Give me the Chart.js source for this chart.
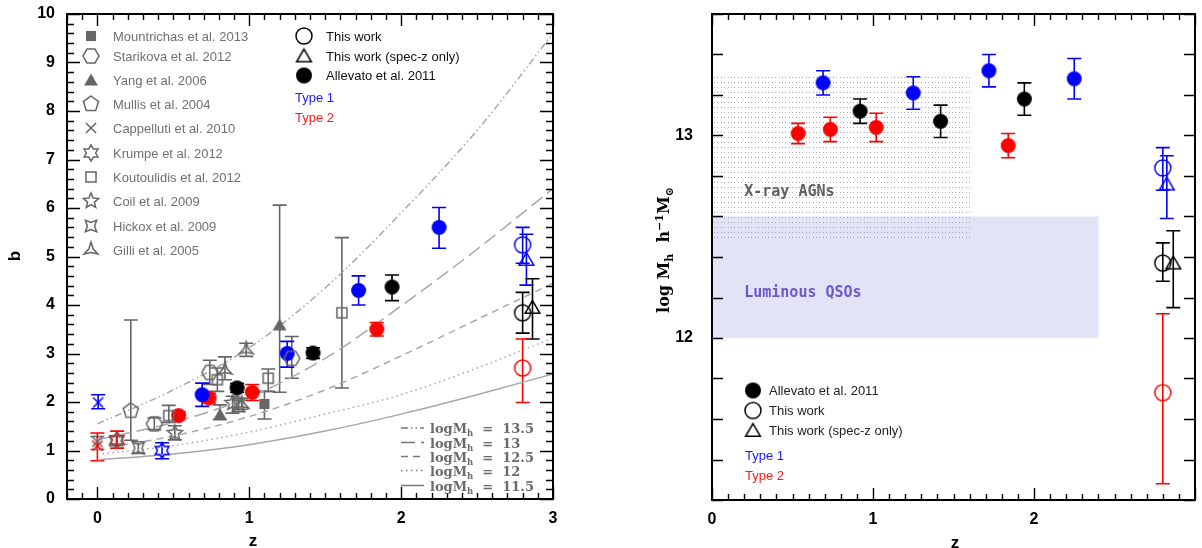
<!DOCTYPE html>
<html>
<head>
<meta charset="utf-8">
<title>AGN bias and halo mass vs redshift</title>
<script src="https://cdn.jsdelivr.net/npm/chart.js@4.4.1/dist/chart.umd.min.js"></script>
<style>
  html, body { margin: 0; padding: 0; background: #fff; width: 1202px; height: 548px; overflow: hidden; }
  #left { position: absolute; left: 0; top: 0; }
  #right { position: absolute; left: 600px; top: 0; }
</style>
</head>
<body>
<canvas id="left" width="580" height="548"></canvas>
<canvas id="right" width="602" height="548"></canvas>
<script>
// ---------- left panel: bias b vs z ----------
const curveZ = [0, 0.5, 1, 1.5, 2, 2.5, 3];
const bM135 = [1.55, 2.25, 3.12, 4.35, 5.9, 7.6, 9.6];
const bM130 = [1.22, 1.58, 2.1, 2.9, 3.98, 5.15, 6.4];
const bM125 = [1.03, 1.3, 1.7, 2.25, 2.95, 3.7, 4.45];
const bM120 = [0.92, 1.1, 1.38, 1.75, 2.15, 2.7, 3.32];
const bM115 = [0.81, 0.93, 1.12, 1.4, 1.75, 2.15, 2.58];

// literature (z, b, lower, upper)
const mountrichasZ = [1.10], mountrichasB = [1.96], mountrichasLo = [1.65], mountrichasHi = [2.22];
const starikovaZ = [0.375, 0.74, 1.28], starikovaB = [1.55, 2.61, 2.90], starikovaLo = [1.43, 2.36, 2.49], starikovaHi = [1.67, 2.86, 3.35];
const yangZ = [0.807, 1.20], yangB = [1.74, 3.59], yangLo = [1.64, 2.20], yangHi = [1.94, 6.06];
const mullisZ = [0.22], mullisB = [1.82], mullisLo = [1.21], mullisHi = [3.69];
const cappZ = [0.0], cappB = [1.18], cappLo = [1.02], cappHi = [1.29];
const cappT1Z = [0.005], cappT1B = [1.99], cappT1Lo = [1.86], cappT1Hi = [2.15];
const cappT2Z = [0.0], cappT2B = [1.10], cappT2Lo = [0.79], cappT2Hi = [1.36];
const krumpeZ = [0.125], krumpeB = [1.20], krumpeLo = [1.10], krumpeHi = [1.30];
const krumpeT1Z = [0.426], krumpeT1B = [1.00], krumpeT1Lo = [0.83], krumpeT1Hi = [1.16];
const krumpeT2Z = [0.13], krumpeT2B = [1.22], krumpeT2Lo = [1.05], krumpeT2Hi = [1.40];
const koutZ = [0.47, 0.79, 1.125, 1.61], koutB = [1.72, 2.46, 2.49, 3.84], koutLo = [1.58, 2.22, 2.22, 2.29], koutHi = [1.93, 2.70, 2.68, 5.39];
const coilZ = [0.51, 0.89], coilB = [1.36, 1.98], coilLo = [1.22, 1.77], coilHi = [1.51, 2.12];
const hickoxZ = [0.27, 0.93], hickoxB = [1.05, 1.93], hickoxLo = [0.94, 1.80], hickoxHi = [1.18, 2.08];
const gilliZ = [0.84, 0.95, 0.98], gilliB = [2.66, 1.96, 3.08], gilliLo = [2.46, 1.85, 2.94], gilliHi = [2.93, 2.07, 3.21];

// Allevato et al. 2011 redshifts (shared by both panels)
const t1Z = [0.69, 1.25, 1.72, 2.25];
const t2Z = [0.535, 0.735, 1.02, 1.84];
const allZ = [0.92, 1.42, 1.94];
const allevT1B = [2.15, 3.00, 4.30, 5.60], allevT1Lo = [1.91, 2.72, 4.00, 5.17], allevT1Hi = [2.39, 3.25, 4.60, 6.01];
const allevT2B = [1.72, 2.08, 2.20, 3.50], allevT2Lo = [1.64, 1.98, 2.03, 3.36], allevT2Hi = [1.80, 2.18, 2.36, 3.64];
const allevAllB = [2.29, 3.01, 4.37], allevAllLo = [2.20, 2.90, 4.09], allevAllHi = [2.38, 3.12, 4.62];

// this work
const ringZ = [2.80], triT1Z = [2.825], triAllZ = [2.865];
const workT1B = [5.24], workT1Lo = [4.86], workT1Hi = [5.60];
const workT1SpecB = [4.94], workT1SpecLo = [4.41], workT1SpecHi = [5.46];
const workAllB = [3.84], workAllLo = [3.42], workAllHi = [4.26];
const workAllSpecB = [3.95], workAllSpecLo = [3.30], workAllSpecHi = [4.54];
const workT2B = [2.70], workT2Lo = [1.99], workT2Hi = [3.30];

// ---------- right panel: log Mh vs z ----------
const mhT1 = [13.26, 13.21, 13.32, 13.28], mhT1Lo = [13.20, 13.13, 13.24, 13.18], mhT1Hi = [13.32, 13.29, 13.40, 13.38];
const mhT2 = [13.01, 13.03, 13.04, 12.95], mhT2Lo = [12.96, 12.97, 12.97, 12.89], mhT2Hi = [13.06, 13.09, 13.11, 13.01];
const mhAll = [13.12, 13.07, 13.18], mhAllLo = [13.06, 12.99, 13.10], mhAllHi = [13.18, 13.15, 13.26];
const mhWorkT1 = [12.84], mhWorkT1Lo = [12.73], mhWorkT1Hi = [12.94];
const mhWorkT1Spec = [12.76], mhWorkT1SpecLo = [12.59], mhWorkT1SpecHi = [12.90];
const mhWorkAll = [12.37], mhWorkAllLo = [12.28], mhWorkAllHi = [12.47];
const mhWorkAllSpec = [12.37], mhWorkAllSpecLo = [12.15], mhWorkAllSpecHi = [12.53];
const mhWorkT2 = [11.73], mhWorkT2Lo = [11.28], mhWorkT2Hi = [12.12];
// shaded regions [zMin, zMax, logMmin, logMmax]
const xrayBox = [0, 1.6, 12.5, 13.3];
const qsoBox = [0, 2.4, 12.0, 12.6];

const GREY = '#666666', LITE = '#a8a8a8', BLUE = '#0000ff', RED = '#ff0000', BLACK = '#000000';

function pts(zs, ys, lo, hi) {
  return zs.map((z, i) => ({ x: z, y: ys[i], yMin: lo ? lo[i] : undefined, yMax: hi ? hi[i] : undefined }));
}

function starPath(g, n, r, inner, rot) {
  const m = inner ? 2 * n : n;
  for (let i = 0; i < m; i++) {
    const a = rot + i * Math.PI * 2 / m;
    const rr = inner && i % 2 ? inner : r;
    const px = rr * Math.sin(a), py = -rr * Math.cos(a);
    if (i === 0) g.moveTo(px, py); else g.lineTo(px, py);
  }
  g.closePath();
}

function makeMarker(shape, color, r) {
  const size = Math.ceil(2 * r + 6);
  const c = document.createElement('canvas');
  c.width = size; c.height = size;
  const g = c.getContext('2d');
  g.translate(size / 2, size / 2);
  g.strokeStyle = color; g.fillStyle = color;
  g.lineWidth = 1.5;
  g.beginPath();
  let fill = false;
  switch (shape) {
    case 'dot': g.arc(0, 0, r, 0, 2 * Math.PI); fill = true; break;
    case 'ring': g.arc(0, 0, r, 0, 2 * Math.PI); break;
    case 'tri': g.translate(0, 1.5); starPath(g, 3, r, 0, 0); break;
    case 'triFill': g.translate(0, 1.5); starPath(g, 3, r, 0, 0); fill = true; break;
    case 'sq': g.rect(-r * 0.72, -r * 0.72, r * 1.44, r * 1.44); break;
    case 'sqFill': g.rect(-r * 0.72, -r * 0.72, r * 1.44, r * 1.44); fill = true; break;
    case 'hex': starPath(g, 6, r, 0, Math.PI / 6); break;
    case 'pent': starPath(g, 5, r, 0, 0); break;
    case 'cross': {
      const d = r * 0.72;
      g.moveTo(-d, -d); g.lineTo(d, d); g.moveTo(d, -d); g.lineTo(-d, d);
      break;
    }
    case 'star6': starPath(g, 6, r, r * 0.58, 0); break;
    case 'star5': starPath(g, 5, r, r * 0.45, 0); break;
    case 'star4': starPath(g, 4, r, r * 0.45, Math.PI / 4); break;
    case 'star3': starPath(g, 3, r, r * 0.3, 0); break;
  }
  if (fill) g.fill(); else g.stroke();
  return c;
}

const M = {
  mountrichas: makeMarker('sqFill', GREY, 7),
  starikova: makeMarker('hex', GREY, 8),
  yang: makeMarker('triFill', GREY, 8),
  mullis: makeMarker('pent', GREY, 8),
  capp: makeMarker('cross', GREY, 7),
  krumpe: makeMarker('star6', GREY, 8),
  kout: makeMarker('sq', GREY, 7),
  coil: makeMarker('star5', GREY, 8),
  hickox: makeMarker('star4', GREY, 8),
  gilli: makeMarker('star3', GREY, 8),
  cappT1: makeMarker('cross', BLUE, 7),
  cappT2: makeMarker('cross', RED, 7),
  krumpeT1: makeMarker('star6', BLUE, 8),
  krumpeT2: makeMarker('star6', RED, 8),
  dotT1: makeMarker('dot', BLUE, 7.5),
  dotT2: makeMarker('dot', RED, 7.5),
  dotAll: makeMarker('dot', BLACK, 7.5),
  ringT1: makeMarker('ring', BLUE, 8),
  ringT2: makeMarker('ring', RED, 8),
  ringAll: makeMarker('ring', BLACK, 8),
  triT1: makeMarker('tri', BLUE, 8.5),
  triAll: makeMarker('tri', BLACK, 8.5),
  legDot: makeMarker('dot', BLACK, 8),
  legRing: makeMarker('ring', BLACK, 8),
  legTri: makeMarker('tri', BLACK, 8.5)
};

function markSet(label, data, img, color) {
  return { label, data, pointStyle: img, errColor: color, order: 1, showLine: false };
}
function curve(label, ys, dash) {
  return {
    label, data: curveZ.map((z, i) => ({ x: z, y: ys[i] })), showLine: true,
    borderColor: LITE, borderWidth: 1.5, borderDash: dash, pointRadius: 0,
    cubicInterpolationMode: 'monotone', order: 5
  };
}

// ---------- plugins ----------
const errorBars = {
  id: 'errorBars',
  beforeDatasetsDraw(chart) {
    const { ctx, scales: { x, y } } = chart;
    ctx.save();
    ctx.lineWidth = 1.6;
    chart.data.datasets.forEach(ds => {
      if (!ds.errColor) return;
      ctx.strokeStyle = ds.errColor;
      ds.data.forEach(p => {
        if (p.yMin === undefined) return;
        const px = x.getPixelForValue(p.x);
        const y1 = y.getPixelForValue(p.yMin), y2 = y.getPixelForValue(p.yMax);
        const w = 7;
        ctx.beginPath();
        ctx.moveTo(px, y1); ctx.lineTo(px, y2);
        ctx.moveTo(px - w, y1); ctx.lineTo(px + w, y1);
        ctx.moveTo(px - w, y2); ctx.lineTo(px + w, y2);
        ctx.stroke();
      });
    });
    ctx.restore();
  }
};

const isMajor = v => Math.abs(v - Math.round(v)) < 1e-6;

function frameTicks(lens) {
  return {
    id: 'frameTicks',
    afterDraw(chart) {
      const { ctx, chartArea: a, scales: { x, y } } = chart;
      ctx.save();
      ctx.strokeStyle = '#000';
      ctx.lineWidth = 1.4;
      ctx.beginPath();
      x.ticks.forEach(t => {
        const px = Math.round(x.getPixelForValue(t.value)) + 0.5;
        const len = isMajor(t.value) ? lens.xMajor : lens.xMinor;
        ctx.moveTo(px, a.bottom); ctx.lineTo(px, a.bottom - len);
        ctx.moveTo(px, a.top); ctx.lineTo(px, a.top + len);
      });
      y.ticks.forEach(t => {
        const py = Math.round(y.getPixelForValue(t.value)) + 0.5;
        const len = isMajor(t.value) ? lens.yMajor : lens.yMinor;
        ctx.moveTo(a.left, py); ctx.lineTo(a.left + len, py);
        ctx.moveTo(a.right, py); ctx.lineTo(a.right - len, py);
      });
      ctx.stroke();
      ctx.lineWidth = 2;
      ctx.strokeRect(a.left, a.top, a.right - a.left, a.bottom - a.top);
      ctx.restore();
    }
  };
}

function richWidth(ctx, parts, family) {
  let w = 0;
  parts.forEach(([t, size]) => { ctx.font = `bold ${size}px ${family}`; w += ctx.measureText(t).width; });
  return w;
}
function drawRich(ctx, x, y, parts, color, family, center) {
  let cx = center ? x - richWidth(ctx, parts, family) / 2 : x;
  ctx.fillStyle = color;
  ctx.textBaseline = 'alphabetic';
  ctx.textAlign = 'left';
  parts.forEach(([t, size, dy]) => {
    ctx.font = `bold ${size}px ${family}`;
    ctx.fillText(t, cx, y + dy);
    cx += ctx.measureText(t).width;
  });
}

function titles(items) {
  return {
    id: 'titles',
    afterDraw(chart) {
      const ctx = chart.ctx;
      items.forEach(it => {
        ctx.save();
        ctx.translate(it.x, it.y);
        if (it.rot) ctx.rotate(it.rot);
        drawRich(ctx, 0, 0, it.parts, '#000', it.family, true);
        ctx.restore();
      });
    }
  };
}

function legendRows(rows) {
  return {
    id: 'legendRows',
    afterDraw(chart) {
      const ctx = chart.ctx;
      ctx.save();
      ctx.textBaseline = 'middle';
      ctx.textAlign = 'left';
      ctx.font = '13px "Liberation Sans", Arial, sans-serif';
      rows.forEach(r => {
        if (r.img) ctx.drawImage(r.img, r.ix - r.img.width / 2, r.y - r.img.height / 2);
        ctx.fillStyle = r.color;
        ctx.fillText(r.text, r.tx, r.y + 1);
      });
      ctx.restore();
    }
  };
}

const curveLegend = {
  id: 'curveLegend',
  afterDraw(chart) {
    const ctx = chart.ctx;
    const rows = [
      ['13.5', [7, 3, 1.5, 3, 1.5, 3], 428],
      ['13', [14, 6], 442.5],
      ['12.5', [7, 5], 456.5],
      ['12', [1.5, 3.5], 470.5],
      ['11.5', [], 485.5]
    ];
    ctx.save();
    rows.forEach(([m, dash, y]) => {
      ctx.strokeStyle = '#777';
      ctx.lineWidth = 1.5;
      ctx.setLineDash(dash);
      ctx.beginPath(); ctx.moveTo(401, y); ctx.lineTo(424, y); ctx.stroke();
      ctx.setLineDash([]);
      drawRich(ctx, 430, y + 5, [['logM', 13, 0], ['h', 8.5, 3], ['  =  ' + m, 13, 0]], '#6a6a6a', '"DejaVu Serif", serif', false);
    });
    ctx.restore();
  }
};

const tickFont = { family: '"Liberation Sans", Arial, sans-serif', weight: 'bold', size: 16 };
const intLabel = v => isMajor(v) ? String(Math.round(v)) : '';

function axis(min, max, step, pad, fit, cb) {
  return {
    type: 'linear', min, max,
    ticks: { stepSize: step, autoSkip: false, maxRotation: 0, padding: pad, color: '#000', font: tickFont, callback: cb || intLabel },
    grid: { display: false, drawTicks: false },
    border: { display: false },
    afterFit: s => { fit(s); s.paddingTop = 0; s.paddingBottom = 0; s.paddingLeft = 0; s.paddingRight = 0; }
  };
}

// ---------- left chart ----------
const leftChart = new Chart(document.getElementById('left'), {
  type: 'scatter',
  data: {
    datasets: [
      curve('logMh = 13.5', bM135, [7, 3, 1.5, 3, 1.5, 3]),
      curve('logMh = 13', bM130, [14, 6]),
      curve('logMh = 12.5', bM125, [7, 5]),
      curve('logMh = 12', bM120, [1.5, 3.5]),
      curve('logMh = 11.5', bM115, []),
      markSet('Mountrichas et al. 2013', pts(mountrichasZ, mountrichasB, mountrichasLo, mountrichasHi), M.mountrichas, GREY),
      markSet('Starikova et al. 2012', pts(starikovaZ, starikovaB, starikovaLo, starikovaHi), M.starikova, GREY),
      markSet('Yang et al. 2006', pts(yangZ, yangB, yangLo, yangHi), M.yang, GREY),
      markSet('Mullis et al. 2004', pts(mullisZ, mullisB, mullisLo, mullisHi), M.mullis, GREY),
      markSet('Cappelluti et al. 2010', pts(cappZ, cappB, cappLo, cappHi), M.capp, GREY),
      markSet('Cappelluti et al. 2010 Type 1', pts(cappT1Z, cappT1B, cappT1Lo, cappT1Hi), M.cappT1, BLUE),
      markSet('Cappelluti et al. 2010 Type 2', pts(cappT2Z, cappT2B, cappT2Lo, cappT2Hi), M.cappT2, RED),
      markSet('Krumpe et al. 2012', pts(krumpeZ, krumpeB, krumpeLo, krumpeHi), M.krumpe, GREY),
      markSet('Krumpe et al. 2012 Type 1', pts(krumpeT1Z, krumpeT1B, krumpeT1Lo, krumpeT1Hi), M.krumpeT1, BLUE),
      markSet('Krumpe et al. 2012 Type 2', pts(krumpeT2Z, krumpeT2B, krumpeT2Lo, krumpeT2Hi), M.krumpeT2, RED),
      markSet('Koutoulidis et al. 2012', pts(koutZ, koutB, koutLo, koutHi), M.kout, GREY),
      markSet('Coil et al. 2009', pts(coilZ, coilB, coilLo, coilHi), M.coil, GREY),
      markSet('Hickox et al. 2009', pts(hickoxZ, hickoxB, hickoxLo, hickoxHi), M.hickox, GREY),
      markSet('Gilli et al. 2005', pts(gilliZ, gilliB, gilliLo, gilliHi), M.gilli, GREY),
      markSet('Allevato Type 1', pts(t1Z, allevT1B, allevT1Lo, allevT1Hi), M.dotT1, BLUE),
      markSet('Allevato Type 2', pts(t2Z, allevT2B, allevT2Lo, allevT2Hi), M.dotT2, RED),
      markSet('Allevato all', pts(allZ, allevAllB, allevAllLo, allevAllHi), M.dotAll, BLACK),
      markSet('This work Type 1', pts(ringZ, workT1B, workT1Lo, workT1Hi), M.ringT1, BLUE),
      markSet('This work Type 1 spec-z', pts(triT1Z, workT1SpecB, workT1SpecLo, workT1SpecHi), M.triT1, BLUE),
      markSet('This work all', pts(ringZ, workAllB, workAllLo, workAllHi), M.ringAll, BLACK),
      markSet('This work all spec-z', pts(triAllZ, workAllSpecB, workAllSpecLo, workAllSpecHi), M.triAll, BLACK),
      markSet('This work Type 2', pts(ringZ, workT2B, workT2Lo, workT2Hi), M.ringT2, RED)
    ]
  },
  options: {
    responsive: false, animation: false, devicePixelRatio: 1, events: [],
    layout: { padding: { top: 14, right: 27, left: 0, bottom: 0 } },
    plugins: { legend: { display: false }, tooltip: { enabled: false } },
    scales: {
      x: axis(-0.2, 3, 0.1, 10, s => { s.height = 49; }),
      y: axis(0, 10, 0.2, 12, s => { s.width = 67; })
    }
  },
  plugins: [
    errorBars,
    frameTicks({ xMajor: 12, xMinor: 6, yMajor: 13, yMinor: 7 }),
    curveLegend,
    legendRows([
      { img: M.mountrichas, ix: 91, tx: 113, y: 36, text: 'Mountrichas et al. 2013', color: '#707070' },
      { img: M.starikova, ix: 91, tx: 113, y: 56, text: 'Starikova et al. 2012', color: '#707070' },
      { img: M.yang, ix: 91, tx: 113, y: 80, text: 'Yang et al. 2006', color: '#707070' },
      { img: M.mullis, ix: 91, tx: 113, y: 104, text: 'Mullis et al. 2004', color: '#707070' },
      { img: M.capp, ix: 91, tx: 113, y: 128, text: 'Cappelluti et al. 2010', color: '#707070' },
      { img: M.krumpe, ix: 91, tx: 113, y: 153, text: 'Krumpe et al. 2012', color: '#707070' },
      { img: M.kout, ix: 91, tx: 113, y: 177, text: 'Koutoulidis et al. 2012', color: '#707070' },
      { img: M.coil, ix: 91, tx: 113, y: 201, text: 'Coil et al. 2009', color: '#707070' },
      { img: M.hickox, ix: 91, tx: 113, y: 226, text: 'Hickox et al. 2009', color: '#707070' },
      { img: M.gilli, ix: 91, tx: 113, y: 250, text: 'Gilli et al. 2005', color: '#707070' },
      { img: M.legRing, ix: 304, tx: 326, y: 36, text: 'This work', color: '#111' },
      { img: M.legTri, ix: 304, tx: 326, y: 56, text: 'This work (spec-z only)', color: '#111' },
      { img: M.legDot, ix: 304, tx: 326, y: 75.5, text: 'Allevato et al. 2011', color: '#111' },
      { tx: 295, y: 97, text: 'Type 1', color: '#1a1aff' },
      { tx: 295, y: 117, text: 'Type 2', color: '#ff1a1a' }
    ]),
    titles([
      { x: 14, y: 256, rot: -Math.PI / 2, parts: [['b', 17, 6]], family: '"Liberation Sans", Arial, sans-serif' },
      { x: 253, y: 546, parts: [['z', 17, 0]], family: '"Liberation Sans", Arial, sans-serif' }
    ])
  ]
});

// ---------- right chart ----------
const regions = {
  id: 'regions',
  beforeDatasetsDraw(chart) {
    const { ctx, scales: { x, y } } = chart;
    ctx.save();
    // luminous QSOs band
    const qx1 = x.getPixelForValue(qsoBox[0]), qx2 = x.getPixelForValue(qsoBox[1]);
    const qy1 = y.getPixelForValue(qsoBox[3]), qy2 = y.getPixelForValue(qsoBox[2]);
    ctx.fillStyle = '#e2e3f6';
    ctx.fillRect(qx1, qy1, qx2 - qx1, qy2 - qy1);
    // X-ray AGN dotted band
    const dx1 = x.getPixelForValue(xrayBox[0]), dx2 = x.getPixelForValue(xrayBox[1]);
    const dy1 = y.getPixelForValue(xrayBox[3]), dy2 = y.getPixelForValue(xrayBox[2]);
    ctx.fillStyle = '#a8a8a8';
    for (let py = dy1 + 2; py < dy2; py += 5) {
      for (let px = dx1 + 2; px < dx2; px += 3.4) ctx.fillRect(Math.round(px), Math.round(py), 1, 1);
    }
    ctx.font = 'bold 15px "DejaVu Sans Mono", monospace';
    ctx.textBaseline = 'middle';
    ctx.fillStyle = '#606060';
    ctx.fillText('X-ray AGNs', x.getPixelForValue(0.2), y.getPixelForValue(12.72));
    ctx.fillStyle = '#6a5acd';
    ctx.fillText('Luminous QSOs', x.getPixelForValue(0.2), y.getPixelForValue(12.22));
    ctx.restore();
  }
};

const rightChart = new Chart(document.getElementById('right'), {
  type: 'scatter',
  data: {
    datasets: [
      markSet('Allevato Type 1', pts(t1Z, mhT1, mhT1Lo, mhT1Hi), M.dotT1, BLUE),
      markSet('Allevato Type 2', pts(t2Z, mhT2, mhT2Lo, mhT2Hi), M.dotT2, RED),
      markSet('Allevato all', pts(allZ, mhAll, mhAllLo, mhAllHi), M.dotAll, BLACK),
      markSet('This work Type 1', pts(ringZ, mhWorkT1, mhWorkT1Lo, mhWorkT1Hi), M.ringT1, BLUE),
      markSet('This work Type 1 spec-z', pts(triT1Z, mhWorkT1Spec, mhWorkT1SpecLo, mhWorkT1SpecHi), M.triT1, BLUE),
      markSet('This work all', pts(ringZ, mhWorkAll, mhWorkAllLo, mhWorkAllHi), M.ringAll, BLACK),
      markSet('This work all spec-z', pts(triAllZ, mhWorkAllSpec, mhWorkAllSpecLo, mhWorkAllSpecHi), M.triAll, BLACK),
      markSet('This work Type 2', pts(ringZ, mhWorkT2, mhWorkT2Lo, mhWorkT2Hi), M.ringT2, RED)
    ]
  },
  options: {
    responsive: false, animation: false, devicePixelRatio: 1, events: [],
    layout: { padding: { top: 14, right: 7, left: 0, bottom: 0 } },
    plugins: { legend: { display: false }, tooltip: { enabled: false } },
    scales: {
      x: axis(0, 3, 0.1, 10, s => { s.height = 48; }, v => (isMajor(v) && v < 2.5) ? String(Math.round(v)) : ''),
      y: axis(11.2, 13.6, 0.2, 19, s => { s.width = 112; })
    }
  },
  plugins: [
    regions,
    errorBars,
    frameTicks({ xMajor: 12, xMinor: 6, yMajor: 11, yMinor: 11 }),
    legendRows([
      { img: M.legDot, ix: 153, tx: 169, y: 390.5, text: 'Allevato et al. 2011', color: '#222' },
      { img: M.legRing, ix: 153, tx: 169, y: 410.5, text: 'This work', color: '#222' },
      { img: M.legTri, ix: 153, tx: 169, y: 430.5, text: 'This work (spec-z only)', color: '#222' },
      { tx: 145, y: 455.5, text: 'Type 1', color: '#1a1aff' },
      { tx: 145, y: 475.5, text: 'Type 2', color: '#ff1a1a' }
    ]),
    titles([
      { x: 64, y: 250, rot: -Math.PI / 2,
        parts: [['log M', 16, 5], ['h', 11, 9], ['  h', 16, 5], ['\u22121', 11, -1], ['M', 16, 5], ['\u2299', 11, 9]],
        family: '"DejaVu Serif", serif' },
      { x: 355, y: 548, parts: [['z', 17, 0]], family: '"Liberation Sans", Arial, sans-serif' }
    ])
  ]
});
</script>
</body>
</html>
